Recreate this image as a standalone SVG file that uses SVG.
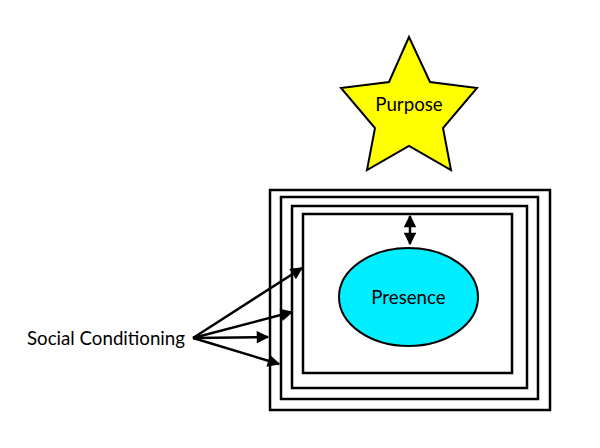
<svg xmlns="http://www.w3.org/2000/svg" width="600" height="448" viewBox="0 0 600 448">
<style>
.box{fill:none;stroke:#000;stroke-width:2.5}
.lbl{font-family:Lato,"Liberation Sans",sans-serif;font-size:18.7px;fill:#000}
.con{stroke:#000;stroke-width:2.5;fill:none}
</style>
<defs>
<marker id="ah" viewBox="0 0 10 10" refX="9" refY="5" markerWidth="5.5" markerHeight="5" orient="auto-start-reverse" markerUnits="strokeWidth">
<path d="M0,0 L10,5 L0,10 z" fill="#000"/>
</marker>
</defs>
<rect width="600" height="448" fill="#fff"/>
<g id="boxes">
<rect class="box" x="270" y="190" width="280" height="220"/>
<rect class="box" x="281" y="197" width="257" height="202"/>
<rect class="box" x="292" y="206" width="235" height="182"/>
<rect class="box" x="303" y="214" width="209" height="159"/>
</g>
<g id="purpose">
<polygon points="409,37 430,82 477,88 443,128 451,170 409,146 367,170 375,128 341,88 389,82" fill="#ffff00" stroke="#000" stroke-width="2"/>
<text class="lbl" x="409" y="111" text-anchor="middle">Purpose</text>
</g>
<g id="presence">
<ellipse cx="408.5" cy="297" rx="69.5" ry="49" fill="#00eeff" stroke="#000" stroke-width="2"/>
<text class="lbl" x="408.5" y="304" text-anchor="middle">Presence</text>
</g>
<g id="social">
<text class="lbl" x="27" y="345">Social Conditioning</text>
</g>
<g id="connectors">
<line class="con" x1="410" y1="216" x2="410" y2="244" marker-start="url(#ah)" marker-end="url(#ah)"/>
<line class="con" x1="193" y1="338" x2="302" y2="268" marker-end="url(#ah)"/>
<line class="con" x1="193" y1="338" x2="292" y2="312" marker-end="url(#ah)"/>
<line class="con" x1="193" y1="338" x2="268" y2="337" marker-end="url(#ah)"/>
<line class="con" x1="193" y1="338" x2="279" y2="364" marker-end="url(#ah)"/>
</g>
</svg>
